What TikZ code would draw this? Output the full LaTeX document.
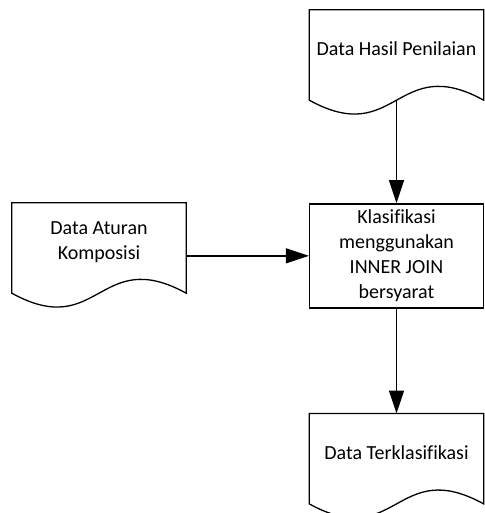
\documentclass[tikz,border=0pt]{standalone}
\usepackage{fontspec}
\setmainfont[Ligatures=NoCommon]{Carlito}
\usepackage{tikz}
\usetikzlibrary{arrows.meta,positioning,calc}
\tikzset{
  vdoc/.style={draw=none,minimum width=174pt,minimum height=78pt,align=center,inner sep=2pt},
  vproc/.style={draw,line width=1.3pt,minimum width=174pt,minimum height=104pt,align=center,inner sep=2pt},
  vedge/.style={line width=1.3pt,draw=black},
  varr/.style={-{Triangle[length=23pt,width=15pt]},line width=1.3pt,draw=black}
}

\begin{document}
\begin{tikzpicture}[x=1pt,y=-1pt,font=\fontsize{20pt}{25pt}\selectfont]
  \useasboundingbox (0,0) rectangle (484,513);
  \node[vdoc] (hasil) at (396.5,49) {Data Hasil Penilaian};
  \node[vproc,below=115pt of hasil] (klas) {Klasifikasi\\ menggunakan\\ INNER JOIN\\ bersyarat};
  \node[vdoc,below=105pt of klas] (kelas) {Data Terklasifikasi};
  \node[vdoc] (aturan) at (99,242) {Data Aturan\\ Komposisi};
  % document outlines with wavy bottom
  \foreach \n in {hasil,aturan,kelas}
    \draw[vedge] (\n.north west) -- ($(\n.south west)+(0,-12pt)$)
      .. controls ($(\n.south)+(0,-60pt)$) and ($(\n.south)+(0,36pt)$) .. ($(\n.south east)+(0,-12pt)$)
      -- (\n.north east) -- cycle;
  \draw[varr] ($(hasil.south)+(0,-12pt)$) -- (klas.north);
  \draw[varr] (aturan.east |- klas.west) -- (klas.west);
  \draw[varr] (klas.south) -- (kelas.north);
\end{tikzpicture}
\end{document}
